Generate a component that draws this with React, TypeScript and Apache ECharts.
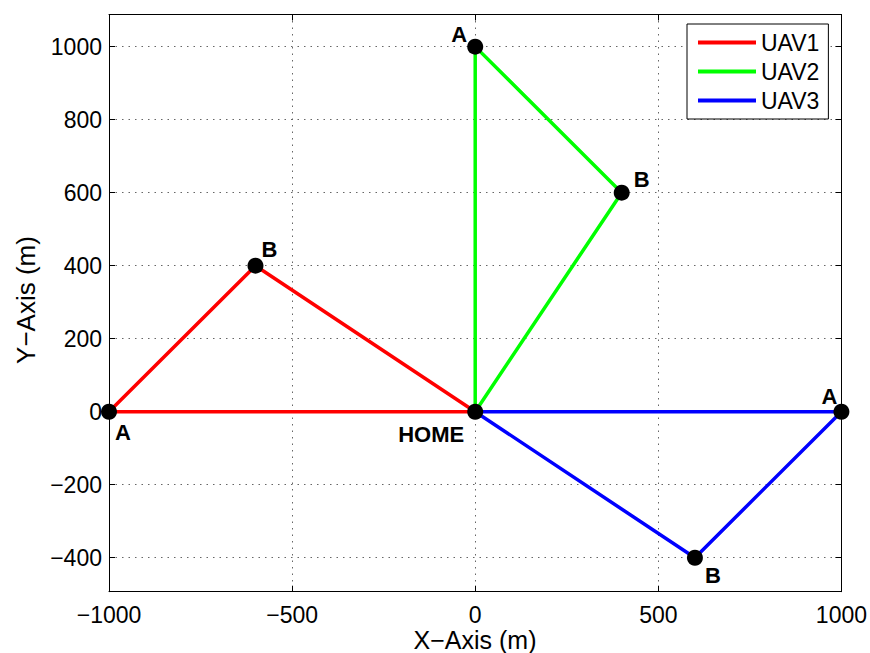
import { useEffect, useRef } from "react";
import * as echarts from "echarts";

// Flight paths: each UAV leaves HOME, visits A, then B, and returns HOME.
const uav1Path: number[][] = [[0, 0], [-1000, 0], [-600, 400], [0, 0]];
const uav2Path: number[][] = [[0, 0], [0, 1000], [400, 600], [0, 0]];
const uav3Path: number[][] = [[0, 0], [1000, 0], [600, -400], [0, 0]];

// Waypoints drawn as black dots with bold names.
const waypointNames = ["A", "B", "A", "B", "A", "B", "HOME"];
const waypointX = [-1000, -600, 0, 400, 1000, 600, 0];
const waypointY = [0, 400, 1000, 600, 0, -400, 0];

const seriesNames = ["UAV1", "UAV2", "UAV3"];
const xTicks = [-1000, -500, 0, 500, 1000];
const yTicks = [-400, -200, 0, 200, 400, 600, 800, 1000];

// Label offsets (px) relative to each dot, same order as waypoints.
const labelOffsets: number[][] = [
  [14, 21], [14, -16], [-16, -12], [20, -13], [-12, -15], [18, 18], [-44, 23],
];

const FONT = "'Liberation Sans', Arial, Helvetica, sans-serif";
const minus = (v: number) => String(v).replace("-", "\u2212");

export default function App() {
  const ref = useRef<HTMLDivElement>(null);

  useEffect(() => {
    if (!ref.current) return;
    const chart = echarts.init(ref.current, null, { renderer: "svg" });

    const grid = { left: 109, right: 28.5, top: 14.5, bottom: 61.3 };
    const xRange = { min: -1000, max: 1000 };
    const yRange = { min: -493, max: 1088 };

    const gridLine = { show: true, lineStyle: { color: "#666", type: [1.5, 5], width: 1 } };

    const xBase = {
      type: "value" as const,
      ...xRange,
      interval: 500,
      axisLine: { show: true, onZero: false, lineStyle: { color: "#000", width: 1 } },
      axisTick: { show: true, inside: true, length: 6, lineStyle: { color: "#000" } },
    };
    const yBase = {
      type: "value" as const,
      ...yRange,
      axisLine: { show: true, onZero: false, lineStyle: { color: "#000", width: 1 } },
      axisTick: { show: true, inside: true, length: 6, customValues: yTicks, lineStyle: { color: "#000" } },
    };

    const waypointData = waypointX.map((x, i) => ({
      value: [x, waypointY[i]],
      name: waypointNames[i],
      label: { offset: labelOffsets[i] },
    }));

    const paths = [uav1Path, uav2Path, uav3Path];
    const colors = ["#ff0000", "#00ff00", "#0000ff"];

    chart.setOption({
      animation: false,
      backgroundColor: "#fff",
      grid,
      xAxis: [
        {
          ...xBase,
          position: "bottom",
          axisLabel: {
            color: "#000",
            fontSize: 23,
            fontFamily: FONT,
            margin: 12,
            formatter: minus,
            customValues: xTicks,
          },
          splitLine: gridLine,
        },
        { ...xBase, position: "top", axisLabel: { show: false }, splitLine: { show: false } },
      ],
      yAxis: [
        {
          ...yBase,
          position: "left",
          axisLabel: { color: "#000", fontSize: 23, fontFamily: FONT, margin: 7, formatter: minus, customValues: yTicks },
          splitLine: gridLine,
        },
        { ...yBase, position: "right", axisLabel: { show: false }, splitLine: { show: false } },
      ],
      legend: {
        data: seriesNames,
        orient: "vertical",
        left: 687,
        top: 24,
        padding: [7, 9, 7, 11],
        itemGap: 6,
        itemWidth: 58,
        itemHeight: 4,
        icon: "rect",
        backgroundColor: "#fff",
        borderColor: "#000",
        borderWidth: 1,
        borderRadius: 0,
        textStyle: { color: "#000", fontSize: 23, fontFamily: FONT, padding: [0, 0, 0, 0], lineHeight: 23 },
      },
      graphic: [
        {
          type: "text",
          x: 475,
          y: 640,
          style: {
            text: "X\u2212Axis (m)",
            fontSize: 25,
            fontFamily: FONT,
            fill: "#000",
            align: "center",
            verticalAlign: "middle",
          },
        },
        {
          type: "text",
          x: 26,
          y: 300,
          rotation: Math.PI / 2,
          style: {
            text: "Y\u2212Axis (m)",
            fontSize: 26,
            fontFamily: FONT,
            fill: "#000",
            align: "center",
            verticalAlign: "middle",
          },
        },
      ],
      series: [
        ...paths.map((p, i) => ({
          name: seriesNames[i],
          type: "line",
          data: p,
          showSymbol: false,
          symbol: "none",
          color: colors[i],
          lineStyle: { color: colors[i], width: 3.5 },
          z: 2,
        })),
        {
          name: "waypoints",
          type: "scatter",
          data: waypointData,
          symbol: "circle",
          symbolSize: 16,
          itemStyle: { color: "#000", opacity: 1 },
          z: 3,
          label: {
            show: true,
            position: "inside",
            formatter: (p: any) => p.name,
            color: "#000",
            fontSize: 22,
            fontWeight: "bold",
            fontFamily: FONT,
            align: "center",
            verticalAlign: "middle",
          },
        },
      ],
    });

    return () => chart.dispose();
  }, []);

  return (
    <div
      ref={ref}
      style={{ position: "absolute", left: 0, top: 0, width: 870, height: 653 }}
    />
  );
}
